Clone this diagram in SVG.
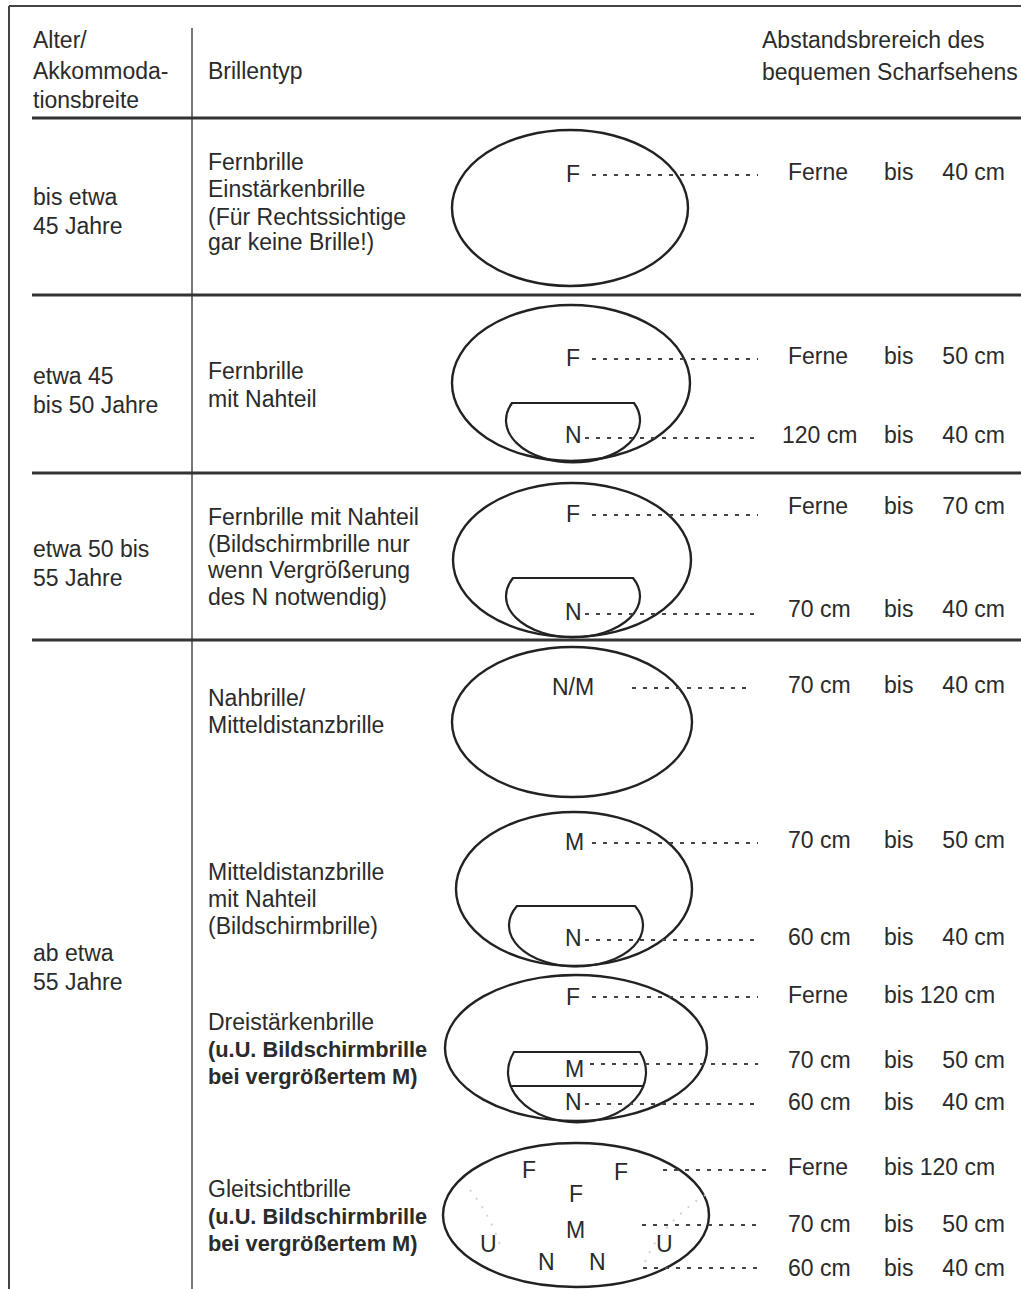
<svg xmlns="http://www.w3.org/2000/svg" width="1021" height="1289" viewBox="0 0 1021 1289">
<style>
.t{font-family:"Liberation Sans",Arial,sans-serif;font-size:23px;fill:#2b2b2b}
.b{font-weight:bold;font-size:21.8px}
.frame{stroke:#444;stroke-width:2;fill:none}
.rule{stroke:#333;stroke-width:3.2;fill:none}
.div{stroke:#555;stroke-width:1.6;fill:none}
.lens{stroke:#222;stroke-width:2.4;fill:none}
.seg{stroke:#222;stroke-width:2.2;fill:none}
.dash{stroke:#444;stroke-width:2;stroke-dasharray:4 7;fill:none}
.faint{stroke:#d4d4d4;stroke-width:2;stroke-dasharray:2 8;fill:none}
</style>
<rect width="1021" height="1289" fill="#fff"/>
<g id="frame">
<path class="frame" d="M9 6 H1021 M9 6 V1289"/>
<path class="div" d="M192 28 V1289"/>
<path class="rule" d="M32 118 H1021 M32 295 H1021 M32 473 H1021 M32 640 H1021"/>
</g>
<g id="header">
<text class="t" x="33" y="48">Alter/</text>
<text class="t" x="33" y="79">Akkommoda-</text>
<text class="t" x="33" y="108">tionsbreite</text>
<text class="t" x="208" y="79">Brillentyp</text>
<text class="t" x="762" y="48">Abstandsbrereich des</text>
<text class="t" x="762" y="80">bequemen Scharfsehens</text>
</g>
<g id="ages">
<text class="t" x="33" y="205">bis etwa</text>
<text class="t" x="33" y="234">45 Jahre</text>
<text class="t" x="33" y="384">etwa 45</text>
<text class="t" x="33" y="413">bis 50 Jahre</text>
<text class="t" x="33" y="557">etwa 50 bis</text>
<text class="t" x="33" y="586">55 Jahre</text>
<text class="t" x="33" y="961">ab etwa</text>
<text class="t" x="33" y="990">55 Jahre</text>
</g>
<g id="types">
<text class="t" x="208" y="170">Fernbrille</text>
<text class="t" x="208" y="197">Einstärkenbrille</text>
<text class="t" x="208" y="225">(Für Rechtssichtige</text>
<text class="t" x="208" y="250">gar keine Brille!)</text>
<text class="t" x="208" y="379">Fernbrille</text>
<text class="t" x="208" y="407">mit Nahteil</text>
<text class="t" x="208" y="525">Fernbrille mit Nahteil</text>
<text class="t" x="208" y="552">(Bildschirmbrille nur</text>
<text class="t" x="208" y="578">wenn Vergrößerung</text>
<text class="t" x="208" y="605">des N notwendig)</text>
<text class="t" x="208" y="706">Nahbrille/</text>
<text class="t" x="208" y="733">Mitteldistanzbrille</text>
<text class="t" x="208" y="880">Mitteldistanzbrille</text>
<text class="t" x="208" y="907">mit Nahteil</text>
<text class="t" x="208" y="934">(Bildschirmbrille)</text>
<text class="t" x="208" y="1030">Dreistärkenbrille</text>
<text class="t b" x="208" y="1057">(u.U. Bildschirmbrille</text>
<text class="t b" x="208" y="1084">bei vergrößertem M)</text>
<text class="t" x="208" y="1197">Gleitsichtbrille</text>
<text class="t b" x="208" y="1224">(u.U. Bildschirmbrille</text>
<text class="t b" x="208" y="1251">bei vergrößertem M)</text>
</g>
<g id="lens1">
<ellipse class="lens" cx="570" cy="208" rx="118" ry="78"/>
<text class="t" x="566" y="182">F</text>
</g>
<g id="lens2">
<ellipse class="lens" cx="571" cy="383" rx="119" ry="78"/>
<path class="seg" d="M512 403 L634 403 A67 42 0 1 1 512 403 Z"/>
<text class="t" x="566" y="366">F</text>
<text class="t" x="565" y="443">N</text>
</g>
<g id="lens3">
<ellipse class="lens" cx="572" cy="560" rx="119" ry="77"/>
<path class="seg" d="M513 578 L633 578 A67 41 0 1 1 513 578 Z"/>
<text class="t" x="566" y="522">F</text>
<text class="t" x="565" y="620">N</text>
</g>
<g id="lens4">
<ellipse class="lens" cx="572" cy="722" rx="120" ry="75"/>
<text class="t" x="552" y="695">N/M</text>
</g>
<g id="lens5">
<ellipse class="lens" cx="574" cy="889" rx="118" ry="77"/>
<path class="seg" d="M517 906 L635 906 A67 41 0 1 1 517 906 Z"/>
<text class="t" x="565" y="850">M</text>
<text class="t" x="565" y="946">N</text>
</g>
<g id="lens6">
<ellipse class="lens" cx="576" cy="1048" rx="131" ry="73"/>
<path class="seg" d="M514 1052 L640 1052 A69 50 0 1 1 514 1052 Z"/>
<path class="seg" d="M511 1086 H643"/>
<text class="t" x="566" y="1005">F</text>
<text class="t" x="565" y="1077">M</text>
<text class="t" x="565" y="1110">N</text>
</g>
<g id="lens7">
<ellipse class="lens" cx="576" cy="1215" rx="133" ry="72"/>
<path class="faint" d="M645 1262 Q660 1225 705 1195"/>
<path class="faint" d="M470 1190 Q490 1215 500 1245"/>
<text class="t" x="522" y="1178">F</text>
<text class="t" x="614" y="1180">F</text>
<text class="t" x="569" y="1202">F</text>
<text class="t" x="566" y="1238">M</text>
<text class="t" x="480" y="1252">U</text>
<text class="t" x="656" y="1252">U</text>
<text class="t" x="538" y="1270">N</text>
<text class="t" x="589" y="1270">N</text>
</g>
<g id="connectors">
<path class="dash" d="M592 175 H758"/>
<path class="dash" d="M592 359 H758"/>
<path class="dash" d="M585 438 H758"/>
<path class="dash" d="M592 515 H758"/>
<path class="dash" d="M585 614 H758"/>
<path class="dash" d="M632 688 H752"/>
<path class="dash" d="M592 843 H758"/>
<path class="dash" d="M585 940 H758"/>
<path class="dash" d="M592 997 H758"/>
<path class="dash" d="M590 1064 H758"/>
<path class="dash" d="M585 1104 H758"/>
<path class="dash" d="M663 1170 H770"/>
<path class="dash" d="M642 1225 H758"/>
<path class="dash" d="M643 1268 H758"/>
</g>
<g id="ranges">
<text class="t" x="788" y="180">Ferne</text><text class="t" x="884" y="180">bis</text><text class="t" x="1005" y="180" text-anchor="end">40 cm</text>
<text class="t" x="788" y="364">Ferne</text><text class="t" x="884" y="364">bis</text><text class="t" x="1005" y="364" text-anchor="end">50 cm</text>
<text class="t" x="782" y="443">120 cm</text><text class="t" x="884" y="443">bis</text><text class="t" x="1005" y="443" text-anchor="end">40 cm</text>
<text class="t" x="788" y="514">Ferne</text><text class="t" x="884" y="514">bis</text><text class="t" x="1005" y="514" text-anchor="end">70 cm</text>
<text class="t" x="788" y="617">70 cm</text><text class="t" x="884" y="617">bis</text><text class="t" x="1005" y="617" text-anchor="end">40 cm</text>
<text class="t" x="788" y="693">70 cm</text><text class="t" x="884" y="693">bis</text><text class="t" x="1005" y="693" text-anchor="end">40 cm</text>
<text class="t" x="788" y="848">70 cm</text><text class="t" x="884" y="848">bis</text><text class="t" x="1005" y="848" text-anchor="end">50 cm</text>
<text class="t" x="788" y="945">60 cm</text><text class="t" x="884" y="945">bis</text><text class="t" x="1005" y="945" text-anchor="end">40 cm</text>
<text class="t" x="788" y="1003">Ferne</text><text class="t" x="884" y="1003">bis 120 cm</text>
<text class="t" x="788" y="1068">70 cm</text><text class="t" x="884" y="1068">bis</text><text class="t" x="1005" y="1068" text-anchor="end">50 cm</text>
<text class="t" x="788" y="1110">60 cm</text><text class="t" x="884" y="1110">bis</text><text class="t" x="1005" y="1110" text-anchor="end">40 cm</text>
<text class="t" x="788" y="1175">Ferne</text><text class="t" x="884" y="1175">bis 120 cm</text>
<text class="t" x="788" y="1232">70 cm</text><text class="t" x="884" y="1232">bis</text><text class="t" x="1005" y="1232" text-anchor="end">50 cm</text>
<text class="t" x="788" y="1276">60 cm</text><text class="t" x="884" y="1276">bis</text><text class="t" x="1005" y="1276" text-anchor="end">40 cm</text>
</g>
</svg>
